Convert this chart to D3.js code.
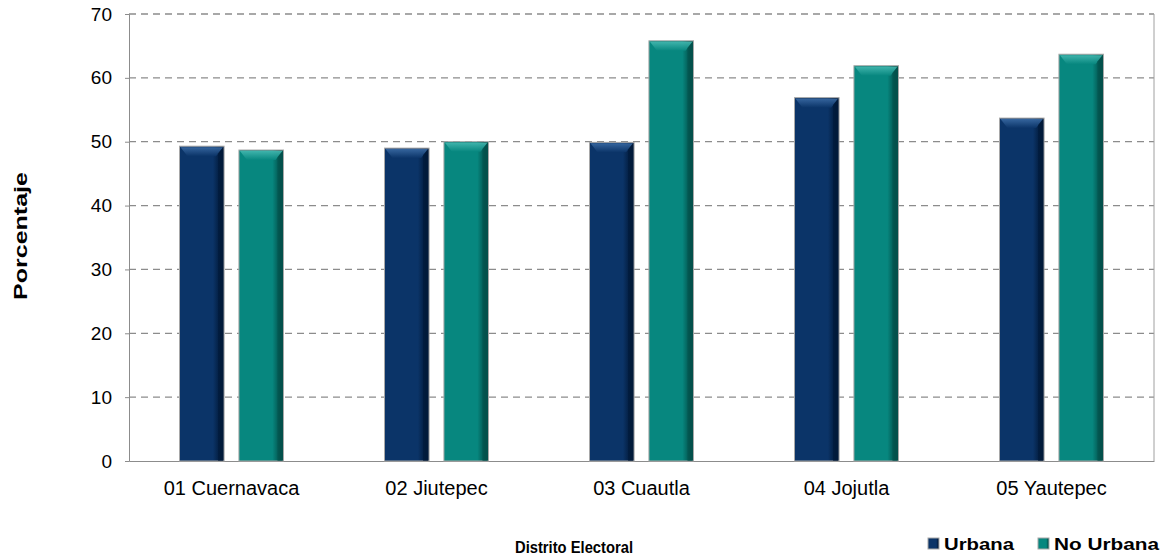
<!DOCTYPE html>
<html><head><meta charset="utf-8">
<script src="https://cdn.jsdelivr.net/npm/d3@7"></script>
<style>body{margin:0;background:#fff;} svg{display:block;font-family:"Liberation Sans",Arial,sans-serif;}</style>
</head><body><svg id="c" width="1167" height="558"></svg>
<script>
const categories = ["01 Cuernavaca","02 Jiutepec","03 Cuautla","04 Jojutla","05 Yautepec"];
const series = ["Urbana","No Urbana"];
const urbana = [49.3, 49.0, 49.9, 56.9, 53.7];
const noUrbana = [48.7, 50.0, 65.8, 61.9, 63.7];
const yTicks = [0,10,20,30,40,50,60,70];
const colors = {"Urbana":{base:"#0b3468",light:"#3a6aa3",dark:"#021a3a"},"No Urbana":{base:"#07877f",light:"#45b8b0",dark:"#03524c"}};

const svg = d3.select("#c");
const m = {l:129, r:1154, t:14, b:461};
const x = d3.scaleBand().domain(categories).range([m.l, m.r]);
const x1 = d3.scaleBand().domain(series).range([-52, 52]).paddingInner(0.25);
const y = d3.scaleLinear().domain([0,70]).range([m.b, m.t]);

const defs = svg.append("defs");
series.forEach((s,i)=>{
  const c = colors[s];
  const g = defs.append("linearGradient").attr("id","g"+i).attr("x1","0").attr("x2","1").attr("y1","0").attr("y2","0");
  g.append("stop").attr("offset","0").attr("stop-color",c.base);
  g.append("stop").attr("offset","0.75").attr("stop-color",c.base);
  g.append("stop").attr("offset","0.92").attr("stop-color",c.dark);
  g.append("stop").attr("offset","1").attr("stop-color",c.dark);
  const t = defs.append("linearGradient").attr("id","t"+i).attr("x1","0").attr("x2","0").attr("y1","0").attr("y2","1");
  t.append("stop").attr("offset","0").attr("stop-color",c.light);
  t.append("stop").attr("offset","1").attr("stop-color",c.base);
});

// gridlines
svg.append("g").selectAll("line").data(yTicks.filter(d=>d>0)).join("line")
  .attr("x1",m.l).attr("x2",m.r).attr("y1",d=>y(d)).attr("y2",d=>y(d))
  .attr("stroke","#8c8c8c").attr("stroke-width",1.3).attr("stroke-dasharray","7,5");
// right border
svg.append("line").attr("x1",m.r).attr("x2",m.r).attr("y1",m.t).attr("y2",m.b).attr("stroke","#a0a0a0");

// y axis
const ya = svg.append("g").attr("transform",`translate(${m.l},0)`)
  .call(d3.axisLeft(y).tickValues(yTicks).tickSize(4).tickPadding(13));
ya.select(".domain").attr("stroke","#8c8c8c");
ya.selectAll(".tick line").attr("stroke","#8c8c8c");
ya.selectAll("text").attr("font-size","19px").attr("fill","#000").attr("font-family","Liberation Sans, Arial, sans-serif");

// x axis
const xa = svg.append("g").attr("transform",`translate(0,${m.b})`)
  .call(d3.axisBottom(x).tickSize(0).tickPadding(16));
xa.select(".domain").attr("stroke","#8c8c8c");
xa.selectAll("text").attr("font-size","20px").attr("fill","#000").attr("dy",null).attr("y",34)
  .attr("font-family","Liberation Sans, Arial, sans-serif");

// bars
const data = [];
categories.forEach((c,i)=>{ data.push({c, s:"Urbana", v:urbana[i], k:0}); data.push({c, s:"No Urbana", v:noUrbana[i], k:1}); });
const bars = svg.append("g").selectAll("g").data(data).join("g")
  .attr("transform",d=>`translate(${x(d.c)+x.bandwidth()/2 + x1(d.s)},0)`);
const bw = x1.bandwidth();
bars.append("rect").attr("x",0).attr("width",bw).attr("y",d=>y(d.v)).attr("height",d=>y(0)-y(d.v))
  .attr("fill",d=>`url(#g${d.k})`).attr("stroke","#a8a8a8").attr("stroke-width",1);
bars.append("path").attr("d",d=>{const t=y(d.v)+1; return `M1,${t} L${bw-1},${t} L${bw-8},${t+9} L8,${t+9} Z`;})
  .attr("fill",d=>`url(#t${d.k})`).attr("opacity",0.9);
bars.append("path").attr("d",d=>{const t=y(d.v)+1, b=y(0); return `M${bw-1},${t} L${bw-1},${b} L${bw-6},${b} L${bw-6},${t+6} Z`;})
  .attr("fill",d=>colors[d.s].dark).attr("opacity",0.6);

// axis titles
svg.append("text").attr("transform","translate(27,236) rotate(-90)").attr("text-anchor","middle")
  .attr("font-size","18px").attr("font-weight","bold")
  .attr("textLength",128).attr("lengthAdjust","spacingAndGlyphs").text("Porcentaje");
svg.append("text").attr("x",574).attr("y",553).attr("text-anchor","middle")
  .attr("font-size","17px").attr("font-weight","bold")
  .attr("textLength",118).attr("lengthAdjust","spacingAndGlyphs").text("Distrito Electoral");

// legend
const legX = [928, 1038];
const legW = [70, 105];
const leg = svg.append("g").selectAll("g").data(series).join("g")
  .attr("transform",(d,i)=>`translate(${legX[i]},538)`);
leg.append("rect").attr("width",11).attr("height",11).attr("fill",(d,i)=>`url(#g${i})`).attr("stroke","#a8a8a8");
leg.append("text").attr("x",16).attr("y",12).attr("font-size","17px").attr("font-weight","bold")
  .attr("textLength",(d,i)=>legW[i]).attr("lengthAdjust","spacingAndGlyphs").text(d=>d);
</script></body></html>
